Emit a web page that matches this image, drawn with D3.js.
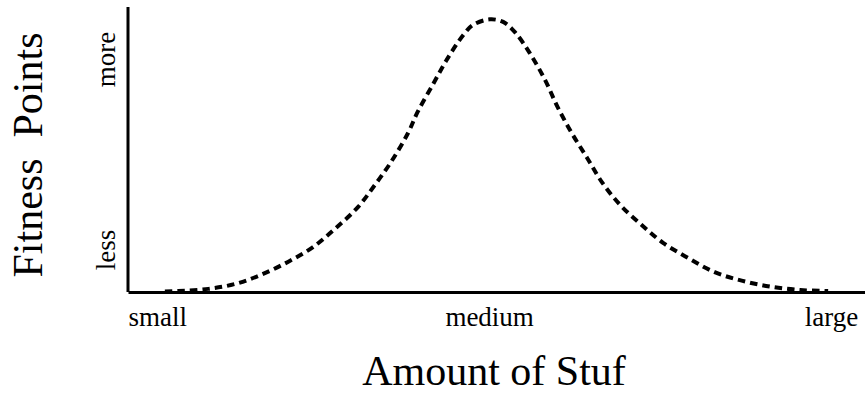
<!DOCTYPE html>
<html>
<head>
<meta charset="utf-8">
<script src="https://cdn.jsdelivr.net/npm/d3@7"></script>
<style>
  html, body { margin: 0; padding: 0; background: #fff; }
  svg { display: block; }
  text { font-family: "Liberation Serif", "Times New Roman", serif; fill: #000; }
</style>
</head>
<body>
<svg id="chart" width="865" height="402"></svg>
<script>
// ---- data ----
const amount  = [5.0, 6.8, 10.9, 14.5, 18.0, 21.7, 25.1, 28.2, 31.2, 33.5, 35.7, 38.0, 39.3, 41.4, 43.3, 45.5, 46.8, 49.1,
                 50.9, 52.5, 54.5, 56.6, 58.3, 60.2, 62.3, 64.3, 66.8, 69.7, 72.6, 76.0, 79.6, 83.4, 87.4, 91.2, 95.0];
const fitness = [0.2, 0.35, 1.1, 2.8, 6.0, 10.6, 15.8, 22.5, 29.9, 37.7, 45.8, 56.0, 63.4, 73.2, 82.0, 90.5, 94.0, 96.0,
                 95.1, 91.5, 84.2, 74.6, 65.1, 56.0, 47.2, 38.7, 30.6, 23.6, 17.3, 12.0, 7.0, 3.9, 1.8, 0.7, 0.35];
const xTickValues = [0, 49, 99];
const xTickLabels = ["small", "medium", "large"];
const yTickValues = [15, 82];
const yTickLabels = ["less", "more"];
const xTitle = "Amount of Stuf";
const yTitle = "Fitness  Points";

// ---- layout ----
const svg = d3.select("#chart");
const x = d3.scaleLinear().domain([0, 100]).range([128, 865]);
const y = d3.scaleLinear().domain([0, 100]).range([292, 8]);

// curve
const pts = amount.map((a, i) => [a, fitness[i]]);
const line = d3.line()
  .x(d => x(d[0]))
  .y(d => y(d[1]))
  .curve(d3.curveCatmullRom.alpha(0.5));

svg.append("path")
  .datum(pts)
  .attr("d", line)
  .attr("fill", "none")
  .attr("stroke", "#000")
  .attr("stroke-width", 4)
  .attr("stroke-dasharray", "7.5,5");

// x axis
const xAxis = d3.axisBottom(x)
  .tickValues(xTickValues)
  .tickFormat((d, i) => xTickLabels[i])
  .tickSize(0)
  .tickPadding(0);
const gx = svg.append("g").attr("transform", `translate(0,${y(0)})`).call(xAxis);
gx.select(".domain").attr("stroke", "#000").attr("stroke-width", 3);
gx.selectAll(".tick text")
  .attr("y", 34)
  .attr("dy", null)
  .style("font-family", '"Liberation Serif", serif')
  .style("font-size", "27px")
  .attr("text-anchor", (d, i) => i === 0 ? "start" : (i === xTickValues.length - 1 ? "end" : "middle"));

// y axis
const yAxis = d3.axisLeft(y)
  .tickValues(yTickValues)
  .tickFormat((d, i) => yTickLabels[i])
  .tickSize(0)
  .tickPadding(0);
const gy = svg.append("g").attr("transform", `translate(${x(0)},0)`).call(yAxis);
gy.select(".domain").attr("stroke", "#000").attr("stroke-width", 3)
  .attr("d", `M0,${y(0)}V7`);
gy.selectAll(".tick text")
  .attr("x", null).attr("dy", null)
  .attr("text-anchor", "middle")
  .attr("transform", "translate(-13,0) rotate(-90)")
  .style("font-family", '"Liberation Serif", serif')
  .style("font-size", "27px");

// titles
svg.append("text")
  .attr("x", 494).attr("y", 385)
  .attr("text-anchor", "middle")
  .style("font-size", "42px")
  .text(xTitle);

svg.append("text")
  .attr("transform", "translate(42,155) rotate(-90)")
  .attr("text-anchor", "middle")
  .style("font-size", "42px")
  .style("white-space", "pre")
  .text(yTitle);
</script>
</body>
</html>
